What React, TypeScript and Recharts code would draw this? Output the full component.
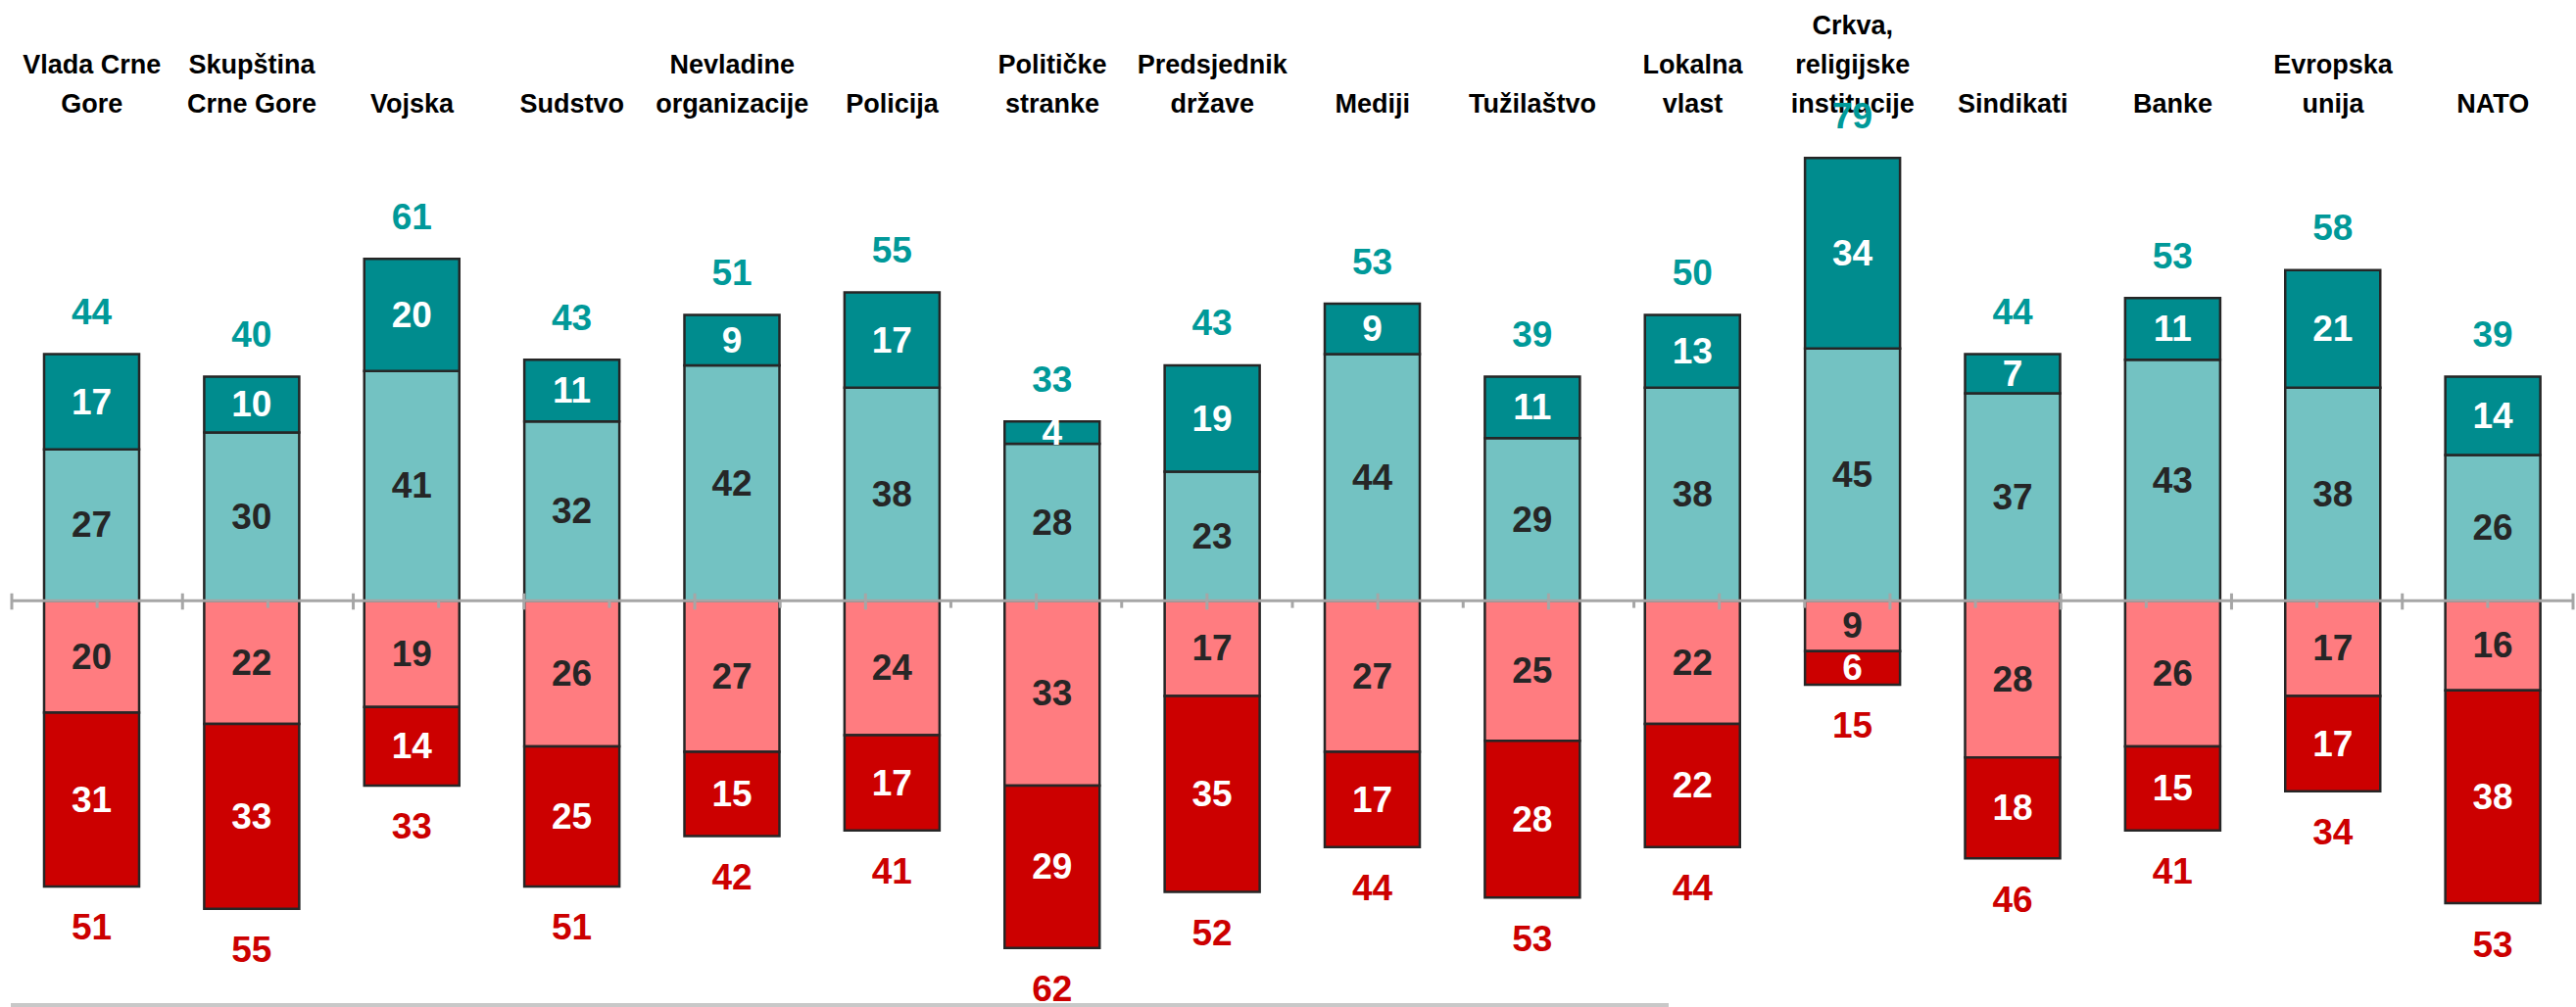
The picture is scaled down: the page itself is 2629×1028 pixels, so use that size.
import React from "react";
import { BarChart, Bar, XAxis, YAxis, ReferenceLine, LabelList } from "recharts";

const categories = [
  "Vlada Crne Gore",
  "Skupština Crne Gore",
  "Vojska",
  "Sudstvo",
  "Nevladine organizacije",
  "Policija",
  "Političke stranke",
  "Predsjednik države",
  "Mediji",
  "Tužilaštvo",
  "Lokalna vlast",
  "Crkva, religijske institucije",
  "Sindikati",
  "Banke",
  "Evropska unija",
  "NATO",
];

const categoryLines = [
  ["Vlada Crne", "Gore"],
  ["Skupština", "Crne Gore"],
  ["Vojska"],
  ["Sudstvo"],
  ["Nevladine", "organizacije"],
  ["Policija"],
  ["Političke", "stranke"],
  ["Predsjednik", "države"],
  ["Mediji"],
  ["Tužilaštvo"],
  ["Lokalna", "vlast"],
  ["Crkva,", "religijske", "institucije"],
  ["Sindikati"],
  ["Banke"],
  ["Evropska", "unija"],
  ["NATO"],
];

const trustFull = [17, 10, 20, 11, 9, 17, 4, 19, 9, 11, 13, 34, 7, 11, 21, 14];
const trustMostly = [27, 30, 41, 32, 42, 38, 28, 23, 44, 29, 38, 45, 37, 43, 38, 26];
const distrustMostly = [20, 22, 19, 26, 27, 24, 33, 17, 27, 25, 22, 9, 28, 26, 17, 16];
const distrustFull = [31, 33, 14, 25, 15, 17, 29, 35, 17, 28, 22, 6, 18, 15, 17, 38];
const trustTotal = [44, 40, 61, 43, 51, 55, 33, 43, 53, 39, 50, 79, 44, 53, 58, 39];
const distrustTotal = [51, 55, 33, 51, 42, 41, 62, 52, 44, 53, 44, 15, 46, 41, 34, 53];

const data = categories.map((name, i) => ({
  name,
  mostly: trustMostly[i],
  full: trustFull[i],
  dMostly: -distrustMostly[i],
  dFull: -distrustFull[i],
}));

const boundaryIdx = Array.from({ length: categories.length + 1 }, (_, i) => i);
const centerIdx = categories.map((_, i) => i + 0.5);

const FONT = "'Liberation Sans', Arial, sans-serif";
const C_DARK_TEAL = "#008C8E";
const C_LIGHT_TEAL = "#73C2C2";
const C_PINK = "#FF7C80";
const C_RED = "#CC0000";
const C_OUTLINE = "#262626";
const C_AXIS = "#A6A6A6";
const VAL_SIZE = 37;
const CAT_SIZE = 27;

const CategoryTick = (props: any) => {
  const { x, y, index, payload } = props;
  const idx = payload && payload.index !== undefined ? payload.index : index;
  const lines = categoryLines[idx] || [];
  return (
    <g>
      {lines.map((l, k) => (
        <text
          key={k}
          x={x}
          y={y - (lines.length - 1 - k) * 40}
          textAnchor="middle"
          fontFamily={FONT}
          fontWeight={700}
          fontSize={CAT_SIZE}
          fill="#000000"
        >
          {l}
        </text>
      ))}
    </g>
  );
};

const makeInner = (color: string) => (props: any) => {
  const { x, y, width, height, value } = props;
  if (value === undefined || value === null) return null;
  const cx = Number(x) + Number(width) / 2;
  const cy = Number(y) + Number(height) / 2;
  return (
    <text
      x={cx}
      y={cy}
      textAnchor="middle"
      dominantBaseline="central"
      fontFamily={FONT}
      fontWeight={700}
      fontSize={VAL_SIZE}
      fill={color}
    >
      {Math.abs(Number(value))}
    </text>
  );
};

const TopTotal = (props: any) => {
  const { x, y, width, height, index } = props;
  const top = Math.min(Number(y), Number(y) + Number(height));
  return (
    <text
      x={Number(x) + Number(width) / 2}
      y={top - 43}
      textAnchor="middle"
      dominantBaseline="central"
      fontFamily={FONT}
      fontWeight={700}
      fontSize={VAL_SIZE}
      fill="#009999"
    >
      {trustTotal[index]}
    </text>
  );
};

const BottomTotal = (props: any) => {
  const { x, y, width, height, index } = props;
  const bottom = Math.max(Number(y), Number(y) + Number(height));
  return (
    <text
      x={Number(x) + Number(width) / 2}
      y={bottom + 42}
      textAnchor="middle"
      dominantBaseline="central"
      fontFamily={FONT}
      fontWeight={700}
      fontSize={VAL_SIZE}
      fill={C_RED}
    >
      {distrustTotal[index]}
    </text>
  );
};

export default function App() {
  return (
    <div style={{ position: "absolute", left: 0, top: 0, width: 2629, height: 1028, background: "#ffffff" }}>
      <BarChart
        width={2629}
        height={1028}
        data={data}
        stackOffset="sign"
        barSize={97}
        margin={{ top: 0, right: 3, bottom: 3, left: 12 }}
      >
        <XAxis
          dataKey="name"
          orientation="top"
          height={127}
          axisLine={false}
          tickLine={false}
          tickSize={0}
          tickMargin={12}
          interval={0}
          tick={<CategoryTick />}
        />
        <XAxis xAxisId="num" type="number" domain={[0, categories.length]} hide allowDataOverflow />
        <YAxis type="number" domain={[-72, 85]} allowDataOverflow hide />
        <Bar dataKey="mostly" stackId="s" fill={C_LIGHT_TEAL} stroke={C_OUTLINE} strokeWidth={2.5} isAnimationActive={false}>
          <LabelList dataKey="mostly" content={makeInner("#262626")} />
        </Bar>
        <Bar dataKey="full" stackId="s" fill={C_DARK_TEAL} stroke={C_OUTLINE} strokeWidth={2.5} isAnimationActive={false}>
          <LabelList dataKey="full" content={makeInner("#FFFFFF")} />
          <LabelList dataKey="full" content={<TopTotal />} />
        </Bar>
        <Bar dataKey="dMostly" stackId="s" fill={C_PINK} stroke={C_OUTLINE} strokeWidth={2.5} isAnimationActive={false}>
          <LabelList dataKey="dMostly" content={makeInner("#262626")} />
        </Bar>
        <Bar dataKey="dFull" stackId="s" fill={C_RED} stroke={C_OUTLINE} strokeWidth={2.5} isAnimationActive={false}>
          <LabelList dataKey="dFull" content={makeInner("#FFFFFF")} />
          <LabelList dataKey="dFull" content={<BottomTotal />} />
        </Bar>
        <ReferenceLine y={0} stroke={C_AXIS} strokeWidth={3} />
        {boundaryIdx.map((b) => (
          <ReferenceLine
            key={"b" + b}
            xAxisId="num"
            segment={[
              { x: b, y: 1.3 },
              { x: b, y: -1.6 },
            ]}
            stroke={C_AXIS}
            strokeWidth={3}
            ifOverflow="visible"
          />
        ))}
        {centerIdx.map((c) => (
          <ReferenceLine
            key={"c" + c}
            xAxisId="num"
            segment={[
              { x: c, y: 0 },
              { x: c, y: -1.3 },
            ]}
            stroke={C_AXIS}
            strokeWidth={3}
            ifOverflow="visible"
          />
        ))}
      </BarChart>
      <div style={{ position: "absolute", left: 11, top: 1024, width: 1692, height: 4, background: "#C8C8C8" }} />
    </div>
  );
}
